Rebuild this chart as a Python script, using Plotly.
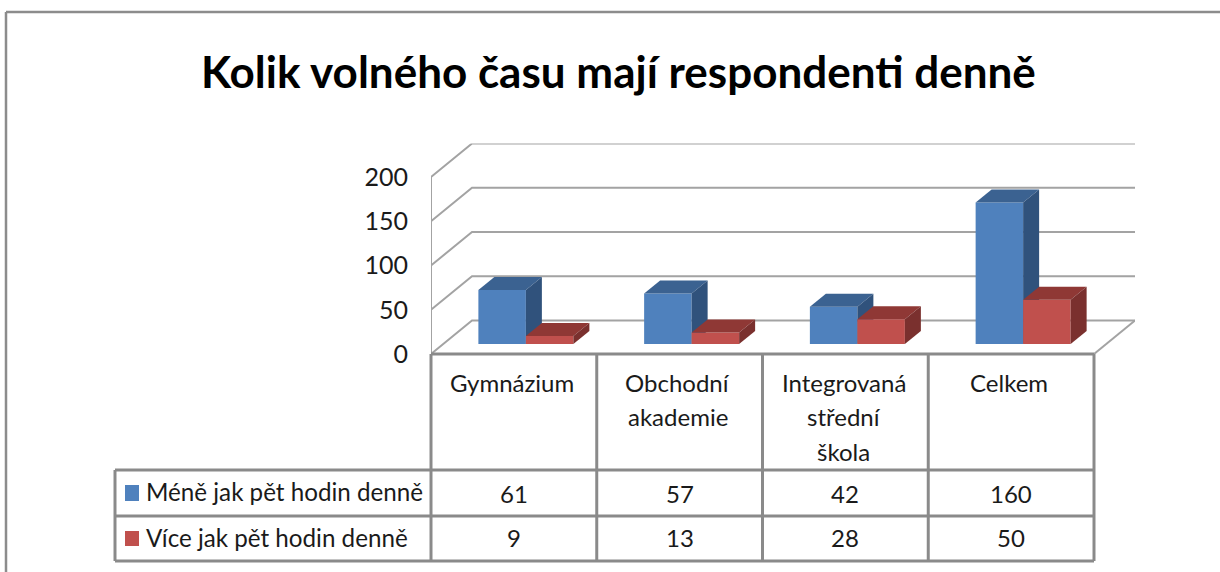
import plotly.graph_objects as go

title = "Kolik volného času mají respondenti denně"
categories = ["Gymnázium", "Obchodní\nakademie", "Integrovaná\nstřední\nškola", "Celkem"]
series_names = ["Méně jak pět hodin denně", "Více jak pět hodin denně"]
less_than_five = [61, 57, 42, 160]
more_than_five = [9, 13, 28, 50]
y_ticks = [0, 50, 100, 150, 200]

W, H = 1220, 572
FONT = "Lato"
TEXT = "#1a1a1a"
GRID = "#a3a3a3"
LINE = "#8a8a8a"

# pixel layout of the plot area
X0, X1 = 431, 1094
Y0, Y1 = 354, 177
CAT_PX = (X1 - X0) / 4
UNIT_PX = (Y0 - Y1) / 200
WALL_PX_X, WALL_PX_Y = 41, 33.5
WALL_DX, WALL_DY = WALL_PX_X / CAT_PX, WALL_PX_Y / UNIT_PX  # depth of the back wall, in axis units
BAR_DX, BAR_DY = 16 / CAT_PX, 13 / UNIT_PX                  # depth of a bar, in axis units
BAR_W = 47.5 / CAT_PX
SHIFT_X, SHIFT_Y = 12, 10                                    # bars stand a little behind the front edge


def px(x):
    return x / W


def py(y):
    return 1 - y / H


fig = go.Figure()


def wall_line(xs, ys):
    fig.add_trace(go.Scatter(x=xs, y=ys, mode="lines", line=dict(color=GRID, width=2),
                             cliponaxis=False, showlegend=False, hoverinfo="skip"))


# wall and gridlines
for t in y_ticks:
    wall_line([0, WALL_DX, 4 + WALL_DX], [t, t + WALL_DY, t + WALL_DY])
wall_line([0, 0], [0, 200])
wall_line([4, 4 + WALL_DX], [0, WALL_DY])


def add_series(name, values, xa, ya, offset, front, top, side):
    centers = [i + 0.5 for i in range(len(values))]
    fig.add_trace(go.Bar(x=centers, y=values, width=BAR_W, offset=offset, name=name,
                         marker=dict(color=front, line=dict(width=0)),
                         xaxis=xa, yaxis=ya, cliponaxis=False, showlegend=False))
    for c, v in zip(centers, values):
        left = c + offset
        right = left + BAR_W
        fig.add_trace(go.Scatter(
            x=[left, right, right + BAR_DX, left + BAR_DX, left],
            y=[v, v, v + BAR_DY, v + BAR_DY, v],
            mode="lines", fill="toself", fillcolor=top, line=dict(width=0),
            xaxis=xa, yaxis=ya, cliponaxis=False, showlegend=False, hoverinfo="skip"))
        fig.add_trace(go.Scatter(
            x=[right, right + BAR_DX, right + BAR_DX, right, right],
            y=[0, BAR_DY, v + BAR_DY, v, 0],
            mode="lines", fill="toself", fillcolor=side, line=dict(width=0),
            xaxis=xa, yaxis=ya, cliponaxis=False, showlegend=False, hoverinfo="skip"))


add_series(series_names[0], less_than_five, "x2", "y2", -BAR_W, "#4f81bd", "#3b6291", "#30527c")
add_series(series_names[1], more_than_five, "x3", "y3", 0, "#c0504d", "#8f3835", "#7a302e")

shapes = []


def seg(x0, y0, x1, y1, color=LINE, width=2):
    shapes.append(dict(type="line", x0=px(x0), y0=py(y0), x1=px(x1), y1=py(y1), xref="paper", yref="paper",
                       layer="above", line=dict(color=color, width=width)))


# data table
rows_y = [470, 516, 561]
seg(X0, Y0, X1, Y0, LINE, 3)
for i in range(5):
    seg(X0 + i * CAT_PX, Y0, X0 + i * CAT_PX, rows_y[-1], LINE, 3)
for r in rows_y:
    seg(115, r, X1, r, LINE, 3)
seg(115, rows_y[0], 115, rows_y[-1], LINE, 3)

# outer frame
seg(6, 12, W, 12, "#8c8c8c", 2.5)
seg(6, 12, 6, H, "#8c8c8c", 2.5)

# legend keys in the table
for (top_y, bot_y), color in zip([(485, 501), (531, 546)], ["#4f81bd", "#c0504d"]):
    shapes.append(dict(type="rect", xref="paper", yref="paper", x0=px(125), x1=px(139),
                       y0=py(top_y), y1=py(bot_y), fillcolor=color, line=dict(width=0), layer="above"))

anns = []


def text(x, y, s, size=24, anchor="center", xref="x", color=TEXT, bold=False):
    anns.append(dict(x=x, y=py(y), xref=xref, yref="paper", text=f"<b>{s}</b>" if bold else s,
                     showarrow=False, xanchor=anchor, yanchor="middle",
                     font=dict(family=FONT, size=size, color=color)))


for i, label in enumerate(categories):
    for j, part in enumerate(label.split("\n")):
        text(i + 0.5 - 0.01, 382 + j * 34.5, part)
for i, (a, b) in enumerate(zip(less_than_five, more_than_five)):
    text(i + 0.5, 493, str(a))
    text(i + 0.5, 537, str(b))
text(px(144), 491, series_names[0], size=24.2, anchor="left", xref="paper")
text(px(144), 537, series_names[1], size=24.2, anchor="left", xref="paper")
text(px(618), 71, title, size=44, xref="paper", color="#000000", bold=True)

# the main axes run on past the front plane so the back wall fits inside them
dom_x = [px(X0), px(X1 + WALL_PX_X)]
dom_y = [py(Y0), py(Y1 - WALL_PX_Y)]
dom_x2 = [px(X0 + SHIFT_X), px(X1 + SHIFT_X)]
dom_y2 = [py(Y0 - SHIFT_Y), py(Y1 - SHIFT_Y)]
hidden = dict(visible=False, fixedrange=True)

fig.update_layout(
    width=W, height=H, margin=dict(l=0, r=0, t=0, b=0, autoexpand=False),
    paper_bgcolor="white", plot_bgcolor="rgba(0,0,0,0)", showlegend=False,
    shapes=shapes, annotations=anns,
    xaxis=dict(domain=dom_x, range=[0, 4 + WALL_DX], visible=False, fixedrange=True),
    yaxis=dict(domain=dom_y, range=[0, 200 + WALL_DY], tickvals=y_ticks, showgrid=False, zeroline=False,
               showline=False, ticks="", ticklabelstandoff=22, fixedrange=True,
               tickfont=dict(family=FONT, size=25, color=TEXT)),
    xaxis2=dict(domain=dom_x2, range=[0, 4], anchor="y2", **hidden),
    yaxis2=dict(domain=dom_y2, range=[0, 200], anchor="x2", **hidden),
    xaxis3=dict(domain=dom_x2, range=[0, 4], anchor="y3", overlaying="x2", **hidden),
    yaxis3=dict(domain=dom_y2, range=[0, 200], anchor="x3", overlaying="y2", **hidden),
)

fig.write_html("out.html", config=dict(displayModeBar=False),
               post_script="document.body.style.margin='0';")
